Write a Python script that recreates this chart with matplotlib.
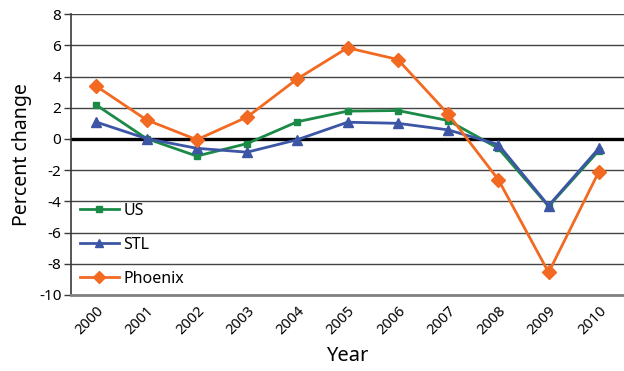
import matplotlib
matplotlib.use("Agg")
import matplotlib.pyplot as plt

plt.rcParams['font.family'] = ['Noto Sans', 'DejaVu Sans']

years = ["2000", "2001", "2002", "2003", "2004", "2005",
         "2006", "2007", "2008", "2009", "2010"]
us = [2.17, 0.02, -1.1, -0.3, 1.1, 1.78, 1.82, 1.18, -0.6, -4.32, -0.75]
stl = [1.08, 0.02, -0.6, -0.85, -0.05, 1.07, 1.0, 0.58, -0.36, -4.28, -0.6]
phoenix = [3.38, 1.22, -0.05, 1.4, 3.85, 5.84, 5.09, 1.6, -2.61, -8.56, -2.1]
yticks = [8, 6, 4, 2, 0, -2, -4, -6, -8, -10]

fig = plt.figure(figsize=(6.24, 3.71), dpi=100)
ax = fig.add_axes([0.114, 0.205, 0.886, 0.757])

x = list(range(len(years)))

for t in yticks:
    if t == 0:
        ax.axhline(t, color='black', lw=2.4, zorder=1)
    elif t != -10:
        ax.axhline(t, color='#444444', lw=1.0, zorder=1)

ax.plot(x, us, color='#1b8a47', lw=2, marker='s', ms=5, label='US', zorder=3)
ax.plot(x, stl, color='#3c55a5', lw=2, marker='^', ms=6.5, label='STL', zorder=4)
ax.plot(x, phoenix, color='#f26a21', lw=2, marker='D', ms=7, label='Phoenix', zorder=5)

ax.set_xlim(-0.5, 10.5)
ax.set_ylim(-10, 8)
ax.set_yticks(yticks)
ax.set_yticklabels([str(t) for t in yticks], fontsize=11)
ax.set_xticks(x)
ax.set_xticklabels(years, rotation=45, ha='right', rotation_mode='anchor', fontsize=10.5)
ax.tick_params(axis='x', length=0, pad=6)
ax.tick_params(axis='y', length=5, width=1, color='#3a3a3a', pad=2)

for s in ['top', 'right']:
    ax.spines[s].set_visible(False)
ax.spines['left'].set_color('#3a3a3a')
ax.spines['left'].set_linewidth(1.2)
ax.spines['bottom'].set_color('#808080')
ax.spines['bottom'].set_linewidth(2)

ax.set_ylabel('Percent change', fontsize=14, labelpad=5)
ax.set_xlabel('Year', fontsize=14.5, labelpad=6)

ax.legend(loc='upper left', bbox_to_anchor=(0.005, 0.35), frameon=False,
          fontsize=11.5, handlelength=2.4, handletextpad=0.3, labelspacing=1.12,
          borderaxespad=0, markerscale=0.85)

fig.savefig('out.png', dpi=100)
